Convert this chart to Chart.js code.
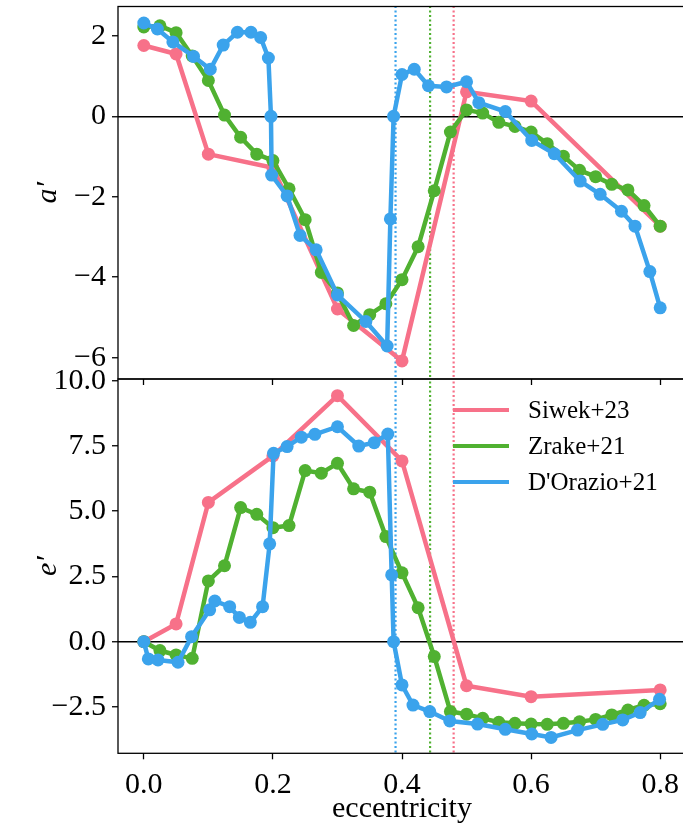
<!DOCTYPE html>
<html>
<head>
<meta charset="utf-8">
<script src="https://cdn.jsdelivr.net/npm/chart.js@4"></script>
<style>
html, body { margin: 0; padding: 0; background: #fff; overflow: hidden; }
#wrap { position: relative; width: 683px; height: 830px; overflow: hidden; }
canvas { position: absolute; left: 0; }
#top { top: 0; }
#bot { top: 370px; }
#legend { position: absolute; left: 453px; top: 392px; font-family: 'Liberation Serif', serif; font-size: 25px; color: #000; }
.row { display: flex; align-items: center; height: 36px; white-space: nowrap; }
.sw { width: 56px; height: 4px; margin-right: 19px; }
</style>
</head>
<body>
<div id="wrap">
  <canvas id="top" width="700" height="400"></canvas>
  <canvas id="bot" width="700" height="460"></canvas>
  <div id="legend"></div>
</div>
<script>
const names = ['Siwek+23', 'Zrake+21', "D'Orazio+21"];
const colors = ['#f77189', '#50b131', '#3ba3ec'];
const zeroCross = [0.480, 0.4435, 0.390]; // dotted lines: Siwek, Zrake, D'Orazio

// Siwek+23
const siwekEcc = [0, 0.05, 0.1, 0.2, 0.3, 0.4, 0.5, 0.6, 0.8];
const siwekA = [1.76, 1.55, -0.94, -1.28, -4.79, -6.08, 0.61, 0.38, -2.73];
const siwekE = [0, 0.68, 5.34, 7.12, 9.43, 6.93, -1.69, -2.11, -1.85];

// Zrake+21
const zrakeEcc = [0, 0.025, 0.05, 0.075, 0.1, 0.125, 0.15, 0.175, 0.2, 0.225, 0.25, 0.275, 0.3,
  0.325, 0.35, 0.375, 0.4, 0.425, 0.45, 0.475, 0.5, 0.525, 0.55, 0.575, 0.6, 0.625, 0.65,
  0.675, 0.7, 0.725, 0.75, 0.775, 0.8];
const zrakeA = [2.22, 2.25, 2.08, 1.50, 0.89, 0.03, -0.52, -0.94, -1.10, -1.80, -2.57, -3.88, -4.39,
  -5.20, -4.93, -4.66, -4.06, -3.24, -1.85, -0.39, 0.16, 0.08, -0.15, -0.25, -0.39, -0.68, -0.99,
  -1.34, -1.50, -1.69, -1.83, -2.22, -2.73];
const zrakeE = [0, -0.34, -0.51, -0.64, 2.33, 2.91, 5.14, 4.88, 4.37, 4.45, 6.56, 6.46, 6.84,
  5.86, 5.73, 4.03, 2.64, 1.30, -0.57, -2.68, -2.78, -2.94, -3.09, -3.13, -3.16, -3.17, -3.13,
  -3.07, -2.98, -2.81, -2.62, -2.44, -2.38];

// D'Orazio+21 (different sampling in each panel)
const dorazioEccA = [0, 0.021, 0.045, 0.077, 0.103, 0.123, 0.145, 0.166, 0.181, 0.193, 0.197, 0.198,
  0.222, 0.242, 0.267, 0.300, 0.344, 0.377, 0.382, 0.387, 0.400, 0.419, 0.441, 0.469, 0.500, 0.519,
  0.560, 0.601, 0.636, 0.676, 0.707, 0.740, 0.761, 0.784, 0.800];
const dorazioA = [2.32, 2.17, 1.85, 1.49, 1.17, 1.77, 2.09, 2.09, 1.96, 1.45, 0.00, -1.46,
  -1.98, -2.96, -3.32, -4.44, -5.10, -5.71, -2.55, 0.00, 1.04, 1.17, 0.76, 0.73, 0.86, 0.34,
  0.12, -0.60, -0.93, -1.61, -1.94, -2.36, -2.73, -3.86, -4.76];
const dorazioEccE = [0, 0.007, 0.022, 0.053, 0.074, 0.102, 0.110, 0.133, 0.148, 0.165, 0.184, 0.195,
  0.201, 0.222, 0.244, 0.265, 0.300, 0.333, 0.357, 0.378, 0.384, 0.387, 0.400, 0.417, 0.443, 0.474,
  0.517, 0.560, 0.601, 0.631, 0.672, 0.711, 0.742, 0.769, 0.799];
const dorazioE = [0, -0.66, -0.70, -0.79, 0.19, 1.22, 1.56, 1.34, 0.93, 0.74, 1.34, 3.75,
  7.22, 7.48, 7.84, 7.95, 8.24, 7.50, 7.63, 7.96, 2.56, 0, -1.66, -2.43, -2.68, -3.04,
  -3.16, -3.36, -3.54, -3.67, -3.39, -3.17, -3.00, -2.72, -2.21];

const FONT = "'Liberation Serif', 'Times New Roman', serif";

function pts(xs, ys) {
  return xs.map((x, i) => ({x: x, y: ys[i]}));
}

function series(label, i, data) {
  return {
    label: label, data: data, order: 2 - i + 10,
    borderColor: colors[i], backgroundColor: colors[i],
    borderWidth: 4.5, pointRadius: 6.5, pointBorderWidth: 0, pointHoverRadius: 6.5,
    tension: 0
  };
}

function vline(i, x) {
  return {
    data: [{x: x, y: -100}, {x: x, y: 100}], order: 20 + i,
    borderColor: colors[i], borderWidth: 2.2, borderDash: [2, 2.5],
    pointRadius: 0, clip: 0
  };
}

const frame = {
  id: 'frame',
  afterDraw(c) {
    const a = c.chartArea, ctx = c.ctx;
    ctx.save();
    ctx.strokeStyle = '#000';
    ctx.lineWidth = 1.3;
    ctx.strokeRect(a.left, a.top, a.right - a.left, a.bottom - a.top);
    ctx.restore();
  }
};

function minus(s) { return s.replace('-', '\u2212'); }

function panel(id, sets, ymin, ymax, ystep, ytitle, fmt, isBottom) {
  const datasets = sets.concat(zeroCross.map((x, i) => vline(i, x)));
  return new Chart(document.getElementById(id), {
    type: 'line',
    data: {datasets: datasets},
    options: {
      responsive: false,
      animation: false,
      layout: {padding: {top: isBottom ? 9 : 3, right: 14, left: 0, bottom: 0}},
      plugins: {legend: {display: false}, tooltip: {enabled: false}},
      scales: {
        x: {
          type: 'linear', min: -0.04, max: 0.84,
          border: {display: false},
          grid: {color: 'rgba(0,0,0,0)', tickColor: '#000', tickLength: 6, tickWidth: 1.3},
          ticks: {
            stepSize: 0.2, includeBounds: false, autoSkip: false, maxRotation: 0,
            color: isBottom ? '#000' : 'rgba(0,0,0,0)', padding: 8,
            font: {family: FONT, size: 30},
            callback: v => v.toFixed(1)
          },
          title: {display: isBottom, text: 'eccentricity', color: '#000',
                  font: {family: FONT, size: 30}, padding: {top: 0, bottom: 3}},
          afterFit: s => {
            s.height = isBottom ? 76.7 : 21;
            s.paddingLeft = 0; s.paddingRight = 0;
          }
        },
        y: {
          type: 'linear', min: ymin, max: ymax,
          border: {display: false},
          grid: {
            color: c => (c.tick && c.tick.value === 0) ? '#000' : 'rgba(0,0,0,0)',
            lineWidth: 1.5, tickColor: '#000', tickLength: 6, tickWidth: 1.3
          },
          ticks: {
            stepSize: ystep, includeBounds: false, autoSkip: false, color: '#000', padding: 6,
            font: {family: FONT, size: 30},
            callback: v => minus(fmt(v))
          },
          title: {display: true, text: ytitle, color: '#000',
                  font: {family: FONT, size: 30, style: 'italic'}, padding: {top: 30, bottom: 0}},
          afterFit: s => {
            s.width = 118;
            s.paddingTop = 0; s.paddingBottom = 0;
          }
        }
      }
    },
    plugins: [frame]
  });
}

panel('top', [
  series(names[0], 0, pts(siwekEcc, siwekA)),
  series(names[1], 1, pts(zrakeEcc, zrakeA)),
  series(names[2], 2, pts(dorazioEccA, dorazioA))
], -6.53, 2.73, 2, 'a\u2032', v => String(v), false);

panel('bot', [
  series(names[0], 0, pts(siwekEcc, siwekE)),
  series(names[1], 1, pts(zrakeEcc, zrakeE)),
  series(names[2], 2, pts(dorazioEccE, dorazioE))
], -4.28, 10.07, 2.5, 'e\u2032', v => v.toFixed(1), true);

const legend = document.getElementById('legend');
names.forEach((n, i) => {
  const row = document.createElement('div');
  row.className = 'row';
  const sw = document.createElement('div');
  sw.className = 'sw';
  sw.style.background = colors[i];
  const tx = document.createElement('span');
  tx.textContent = n;
  row.appendChild(sw);
  row.appendChild(tx);
  legend.appendChild(row);
});
</script>
</body>
</html>
